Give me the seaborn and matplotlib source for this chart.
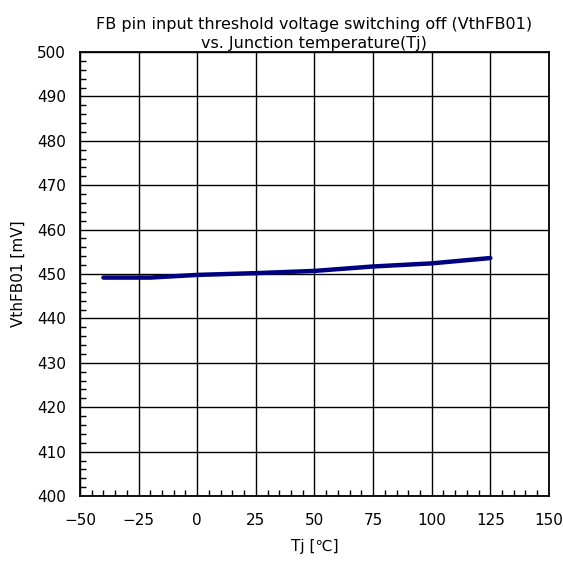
import matplotlib
matplotlib.use("Agg")
import matplotlib.pyplot as plt
from matplotlib.ticker import MultipleLocator
import numpy as np
import pandas as pd
import seaborn as sns

# data
tj = [-40, -20, 0, 25, 50, 75, 100, 125]
vth = [449.2, 449.2, 449.8, 450.2, 450.7, 451.7, 452.4, 453.6]

df = pd.DataFrame({"Tj": tj, "VthFB01": vth})

sns.set_style("white")
plt.rcParams['font.family'] = ['DejaVu Sans', 'Noto Sans CJK JP']
plt.rcParams['text.color'] = 'black'
plt.rcParams['axes.labelcolor'] = 'black'
plt.rcParams['xtick.color'] = 'black'
plt.rcParams['ytick.color'] = 'black'

fig = plt.figure(figsize=(5.63, 5.65), dpi=100)
ax = fig.add_axes([0.142, 0.122, 0.833, 0.786])

sns.lineplot(data=df, x="Tj", y="VthFB01", color="#000080", linewidth=3.2, ax=ax)

ax.set_xlim(-50, 150)
ax.set_ylim(400, 500)
ax.xaxis.set_major_locator(MultipleLocator(25))
ax.xaxis.set_minor_locator(MultipleLocator(5))
ax.yaxis.set_major_locator(MultipleLocator(10))
ax.yaxis.set_minor_locator(MultipleLocator(2))
ax.grid(True, which="major", color="black", linewidth=1)
ax.set_axisbelow(True)
ax.tick_params(which="major", direction="in", length=0, labelsize=11, pad=12)
ax.tick_params(axis="y", which="major", pad=10)
ax.tick_params(which="minor", direction="in", length=4, width=1, color="black",
               bottom=True, left=True)
for s in ax.spines.values():
    s.set_color("black")
    s.set_linewidth(1.3)

ax.set_xlabel("Tj [℃]", fontsize=11, labelpad=8)
ax.set_ylabel("VthFB01 [mV]", fontsize=11, labelpad=8)
ax.set_title("FB pin input threshold voltage switching off (VthFB01)\nvs. Junction temperature(Tj)",
             fontsize=11.5, linespacing=1.35, pad=3)

fig.savefig("out.png", dpi=100)
